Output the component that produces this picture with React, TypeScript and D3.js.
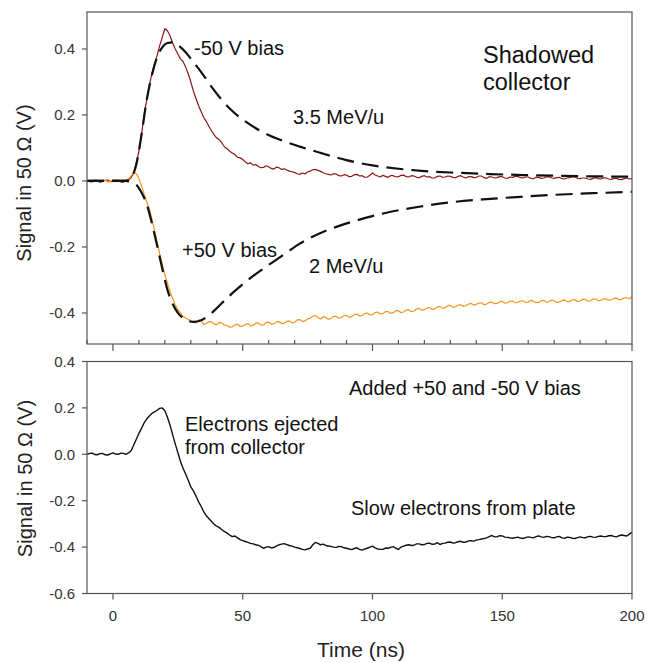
import React from "react";
import * as d3 from "d3";

// time grid (ns) for measured traces, 1 ns step
const time: number[] = d3.range(-10, 201, 1);

// -50 V bias (dark red) measured trace, V
const redTrace: number[] = [
  0.002, -0.002, -0.003, 0.003, 0.001, -0.004, -0.002, 0.002, 0.003, -0.002,
  -0.001, 0.003, 0.002, -0.003, -0.004, 0.002, 0.004, 0.01, 0.025, 0.055,
  0.09, 0.14, 0.2, 0.245, 0.29, 0.325, 0.355, 0.38, 0.41, 0.435,
  0.462, 0.455, 0.44, 0.418, 0.4, 0.385, 0.37, 0.362, 0.345, 0.325,
  0.3, 0.272, 0.25, 0.228, 0.21, 0.192, 0.18, 0.165, 0.152, 0.14,
  0.13, 0.125, 0.115, 0.103, 0.098, 0.09, 0.085, 0.08, 0.072, 0.07,
  0.065, 0.058, 0.052, 0.055, 0.048, 0.05, 0.044, 0.04, 0.041, 0.046,
  0.043, 0.038, 0.036, 0.042, 0.04, 0.035, 0.037, 0.033, 0.03, 0.028,
  0.026, 0.022, 0.02, 0.024, 0.021, 0.027, 0.03, 0.034, 0.035, 0.032,
  0.029, 0.025, 0.022, 0.02, 0.018, 0.022, 0.021, 0.016, 0.015, 0.019,
  0.018, 0.013, 0.014, 0.019, 0.02, 0.015, 0.016, 0.011, 0.012, 0.017,
  0.024, 0.018, 0.015, 0.012, 0.017, 0.014, 0.011, 0.016, 0.016, 0.012,
  0.013, 0.017, 0.018, 0.013, 0.012, 0.016, 0.015, 0.011, 0.01, 0.014,
  0.016, 0.012, 0.013, 0.009, 0.009, 0.014, 0.015, 0.011, 0.012, 0.015,
  0.014, 0.011, 0.01, 0.014, 0.016, 0.012, 0.009, 0.013, 0.013, 0.01,
  0.011, 0.015, 0.015, 0.01, 0.008, 0.013, 0.012, 0.009, 0.01, 0.013,
  0.013, 0.009, 0.008, 0.012, 0.011, 0.014, 0.014, 0.01, 0.009, 0.012,
  0.012, 0.008, 0.007, 0.011, 0.011, 0.008, 0.009, 0.012, 0.013, 0.009,
  0.008, 0.01, 0.011, 0.007, 0.006, 0.009, 0.01, 0.013, 0.012, 0.008,
  0.007, 0.009, 0.009, 0.006, 0.005, 0.008, 0.01, 0.007, 0.006, 0.01,
  0.009, 0.006, 0.005, 0.008, 0.008, 0.005, 0.004, 0.007, 0.009, 0.006,
  0.007,
];

// +50 V bias (orange) measured trace, V
const orangeTrace: number[] = [
  0.001, -0.001, -0.002, 0.002, 0.002, -0.001, 0.0, 0.003, -0.003, -0.001,
  0.002, -0.002, -0.001, 0.002, 0.003, 0.001, 0.006, 0.015, 0.028, 0.022,
  0.008, -0.015, -0.04, -0.062, -0.085, -0.115, -0.15, -0.185, -0.22, -0.252,
  -0.285, -0.31, -0.335, -0.355, -0.375, -0.39, -0.4, -0.41, -0.415, -0.42,
  -0.423, -0.428, -0.43, -0.421, -0.424, -0.435, -0.432, -0.426, -0.427, -0.434,
  -0.436, -0.429, -0.43, -0.437, -0.438, -0.443, -0.442, -0.436, -0.434, -0.441,
  -0.44, -0.435, -0.432, -0.439, -0.437, -0.431, -0.43, -0.437, -0.436, -0.429,
  -0.428, -0.434, -0.433, -0.427, -0.426, -0.432, -0.431, -0.425, -0.424, -0.43,
  -0.428, -0.421, -0.42, -0.426, -0.424, -0.418, -0.416, -0.41, -0.408, -0.414,
  -0.418, -0.412, -0.413, -0.419, -0.417, -0.41, -0.41, -0.416, -0.414, -0.408,
  -0.407, -0.413, -0.411, -0.405, -0.403, -0.409, -0.408, -0.402, -0.4, -0.406,
  -0.405, -0.399, -0.397, -0.403, -0.402, -0.396, -0.396, -0.401, -0.399, -0.393,
  -0.393, -0.399, -0.397, -0.391, -0.39, -0.396, -0.394, -0.388, -0.386, -0.392,
  -0.39, -0.385, -0.383, -0.389, -0.387, -0.382, -0.38, -0.386, -0.384, -0.378,
  -0.377, -0.383, -0.381, -0.376, -0.375, -0.38, -0.378, -0.373, -0.371, -0.376,
  -0.374, -0.37, -0.369, -0.375, -0.373, -0.368, -0.367, -0.372, -0.371, -0.366,
  -0.365, -0.37, -0.369, -0.364, -0.364, -0.369, -0.368, -0.363, -0.363, -0.368,
  -0.367, -0.362, -0.364, -0.369, -0.368, -0.363, -0.362, -0.367, -0.366, -0.361,
  -0.363, -0.368, -0.367, -0.362, -0.361, -0.366, -0.365, -0.36, -0.36, -0.365,
  -0.364, -0.359, -0.359, -0.364, -0.363, -0.358, -0.358, -0.363, -0.362, -0.357,
  -0.357, -0.361, -0.36, -0.356, -0.355, -0.36, -0.359, -0.354, -0.354, -0.357,
  -0.351,
];

// sum of +50 and -50 V bias (black, lower panel), V
const sumTrace: number[] = [
  0.0, 0.004, 0.005, -0.001, -0.002, 0.003, 0.004, -0.002, -0.003, 0.002,
  0.006, 0.001, 0.0, 0.005, 0.004, 0.0, 0.006, 0.015, 0.04, 0.065,
  0.09, 0.112, 0.135, 0.152, 0.165, 0.176, 0.183, 0.19, 0.198, 0.2,
  0.188, 0.16, 0.125, 0.085, 0.045, 0.008, -0.03, -0.06, -0.085, -0.112,
  -0.14, -0.158, -0.18, -0.205, -0.225, -0.248, -0.265, -0.278, -0.29, -0.302,
  -0.31, -0.316, -0.325, -0.333, -0.34, -0.348, -0.355, -0.352, -0.36, -0.368,
  -0.372, -0.376, -0.38, -0.384, -0.386, -0.39, -0.392, -0.398, -0.405, -0.4,
  -0.398, -0.403, -0.402, -0.395, -0.39, -0.387, -0.385, -0.389, -0.393, -0.396,
  -0.4, -0.403, -0.406, -0.41, -0.412, -0.408, -0.405, -0.39, -0.38, -0.384,
  -0.39, -0.387, -0.393, -0.395, -0.397, -0.4, -0.401, -0.397, -0.398, -0.403,
  -0.405, -0.408, -0.411, -0.406, -0.403, -0.41, -0.413, -0.408, -0.405, -0.4,
  -0.396, -0.403, -0.408, -0.41, -0.41, -0.404, -0.405, -0.401, -0.398, -0.405,
  -0.41, -0.4, -0.396, -0.392, -0.39, -0.393, -0.392, -0.386, -0.386, -0.39,
  -0.389, -0.384, -0.383, -0.388, -0.387, -0.381, -0.389, -0.384, -0.383, -0.379,
  -0.378, -0.383, -0.381, -0.377, -0.375, -0.379, -0.378, -0.373, -0.372, -0.374,
  -0.37, -0.368, -0.365, -0.363, -0.36, -0.355, -0.35, -0.356, -0.356, -0.351,
  -0.352, -0.357, -0.358, -0.36, -0.362, -0.359, -0.357, -0.361, -0.363, -0.359,
  -0.356, -0.358, -0.36, -0.355, -0.352, -0.356, -0.358, -0.354, -0.355, -0.359,
  -0.36, -0.356, -0.354, -0.36, -0.362, -0.357, -0.358, -0.362, -0.363, -0.359,
  -0.356, -0.359, -0.36, -0.355, -0.354, -0.357, -0.358, -0.354, -0.352, -0.355,
  -0.355, -0.351, -0.35, -0.354, -0.356, -0.351, -0.348, -0.35, -0.352, -0.344,
  -0.335,
];

// model curve, 3.5 MeV/u (dashed, upper)
const fit35Time: number[] = [-10, 0, 5, 7, 9, 11, 13, 15, 17, 19, 21, 23, 25, 28, 31, 34, 38, 42, 46, 52, 59, 66, 72, 80, 90, 100, 110, 120, 132, 145, 158, 170, 185, 200];
const fit35Vals: number[] = [0, 0, 0, 0.01, 0.05, 0.14, 0.245, 0.32, 0.375, 0.405, 0.418, 0.42, 0.412, 0.39, 0.36, 0.33, 0.285, 0.245, 0.212, 0.175, 0.143, 0.12, 0.104, 0.085, 0.063, 0.047, 0.037, 0.03, 0.025, 0.021, 0.018, 0.016, 0.014, 0.013];

// model curve, 2 MeV/u (dashed, lower)
const fit2Time: number[] = [-10, 0, 5, 7, 9, 11, 13, 15, 17, 19, 21, 23, 25, 28, 31, 34, 38, 42, 46, 52, 59, 66, 72, 83, 92, 105, 118, 131, 144, 157, 170, 185, 200];
const fit2Vals: number[] = [0, 0, 0, -0.005, -0.012, -0.035, -0.07, -0.128, -0.195, -0.265, -0.33, -0.372, -0.4, -0.42, -0.427, -0.422, -0.4, -0.37, -0.34, -0.3, -0.26, -0.222, -0.19, -0.148, -0.124, -0.097, -0.078, -0.064, -0.055, -0.048, -0.042, -0.037, -0.033];

const topTicks: number[] = [-0.4, -0.2, 0.0, 0.2, 0.4];
const bottomTicks: number[] = [-0.6, -0.4, -0.2, 0.0, 0.2, 0.4];
const xMajorTicks: number[] = [0, 50, 100, 150, 200];
const xMinorTicks: number[] = [-10, 10, 20, 30, 40, 60, 70, 80, 90, 110, 120, 130, 140, 160, 170, 180, 190];

const FONT = "'Liberation Sans', Arial, Helvetica, sans-serif";
const AXIS = "#555";
const LABEL = "#333";

export default function App() {
  const W = 647, H = 663;
  const x = d3.scaleLinear().domain([-10, 200]).range([87, 632]);
  const yTop = d3.scaleLinear().domain([-0.494, 0.512]).range([344, 12]);
  const yBot = d3.scaleLinear().domain([-0.6, 0.4]).range([593.5, 361.5]);
  const fmt = (v: number) => d3.format(".1f")(v).replace("\u2212", "-");

  const lineTop = d3.line<[number, number]>().x(d => x(d[0])).y(d => yTop(d[1]));
  const lineTopSmooth = d3.line<[number, number]>().x(d => x(d[0])).y(d => yTop(d[1])).curve(d3.curveMonotoneX);
  const lineBot = d3.line<[number, number]>().x(d => x(d[0])).y(d => yBot(d[1]));

  const zip = (t: number[], v: number[]) => t.map((tt, i) => [tt, v[i]] as [number, number]);

  const x0 = x(-10), x1 = x(200);
  const tt = yTop.range()[1], tb = yTop.range()[0];
  const bt = yBot.range()[1], bb = yBot.range()[0];

  const annot = { fontFamily: FONT, fontSize: 20, fill: "#111" };

  return (
    <svg width={W} height={H} style={{ position: "absolute", left: 0, top: 0, background: "#fff" }} fontFamily={FONT}>
      <rect x={0} y={0} width={W} height={H} fill="#fff" />
      <defs>
        <clipPath id="clipTop"><rect x={x0} y={tt} width={x1 - x0} height={tb - tt} /></clipPath>
        <clipPath id="clipBot"><rect x={x0} y={bt} width={x1 - x0} height={bb - bt} /></clipPath>
      </defs>
      {/* ---------- top panel ---------- */}
      <g clipPath="url(#clipTop)">
        <path d={lineTop(zip(time, redTrace)) || ""} fill="none" stroke="#8b1818" strokeWidth={1.2} strokeLinejoin="round" />
        <path d={lineTop(zip(time, orangeTrace)) || ""} fill="none" stroke="#f7931e" strokeWidth={1.2} strokeLinejoin="round" />
        <path d={lineTopSmooth(zip(fit35Time, fit35Vals)) || ""} fill="none" stroke="#111" strokeWidth={2.2} strokeDasharray="17 8" />
        <path d={lineTopSmooth(zip(fit2Time, fit2Vals)) || ""} fill="none" stroke="#111" strokeWidth={2.2} strokeDasharray="17 8" />
      </g>
      <rect x={x0} y={tt} width={x1 - x0} height={tb - tt} fill="none" stroke={AXIS} strokeWidth={1.2} />
      {topTicks.map(v => (
        <g key={"tt" + v}>
          <line x1={x0 - 5} x2={x0} y1={yTop(v)} y2={yTop(v)} stroke={AXIS} strokeWidth={1.2} />
          <text x={x0 - 12} y={yTop(v)} dy="0.35em" textAnchor="end" fontSize={15} fill={LABEL}>{fmt(v)}</text>
        </g>
      ))}
      {xMajorTicks.map(v => (
        <line key={"tx" + v} x1={x(v)} x2={x(v)} y1={tb} y2={tb + 7} stroke={AXIS} strokeWidth={1.2} />
      ))}
      {xMinorTicks.map(v => (
        <line key={"tm" + v} x1={x(v)} x2={x(v)} y1={tb} y2={tb - 4} stroke={AXIS} strokeWidth={1.2} />
      ))}
      <text transform={`translate(31,${(tt + tb) / 2 + 5}) rotate(-90)`} textAnchor="middle" fontSize={20} fill="#222">Signal in 50 Ω (V)</text>

      <text x={194} y={55} {...annot}>-50 V bias</text>
      <text x={293} y={124} {...annot}>3.5 MeV/u</text>
      <text x={483} y={63} {...annot} fontSize={23.5}>Shadowed</text>
      <text x={483} y={90} {...annot} fontSize={23.5}>collector</text>
      <text x={182} y={257} {...annot}>+50 V bias</text>
      <text x={309} y={273} {...annot}>2 MeV/u</text>

      {/* ---------- bottom panel ---------- */}
      <g clipPath="url(#clipBot)">
        <path d={lineBot(zip(time, sumTrace)) || ""} fill="none" stroke="#111" strokeWidth={1.4} strokeLinejoin="round" />
      </g>
      <rect x={x0} y={bt} width={x1 - x0} height={bb - bt} fill="none" stroke={AXIS} strokeWidth={1.2} />
      {bottomTicks.map(v => (
        <g key={"bt" + v}>
          <line x1={x0 - 5} x2={x0} y1={yBot(v)} y2={yBot(v)} stroke={AXIS} strokeWidth={1.2} />
          <text x={x0 - 12} y={yBot(v)} dy="0.35em" textAnchor="end" fontSize={15} fill={LABEL}>{fmt(v)}</text>
        </g>
      ))}
      {xMajorTicks.map(v => (
        <g key={"bx" + v}>
          <line x1={x(v)} x2={x(v)} y1={bb} y2={bb + 6} stroke={AXIS} strokeWidth={1.2} />
          <text x={x(v)} y={621} textAnchor="middle" fontSize={15} fill={LABEL}>{v}</text>
        </g>
      ))}
      <text transform={`translate(32,${(bt + bb) / 2 + 1}) rotate(-90)`} textAnchor="middle" fontSize={20} fill="#222">Signal in 50 Ω (V)</text>
      <text x={361} y={657} textAnchor="middle" fontSize={21} fill="#222">Time (ns)</text>

      <text x={349} y={395} {...annot}>Added +50 and -50 V bias</text>
      <text x={185} y={431} {...annot}>Electrons ejected</text>
      <text x={185} y={454} {...annot}>from collector</text>
      <text x={351} y={515} {...annot}>Slow electrons from plate</text>
    </svg>
  );
}
